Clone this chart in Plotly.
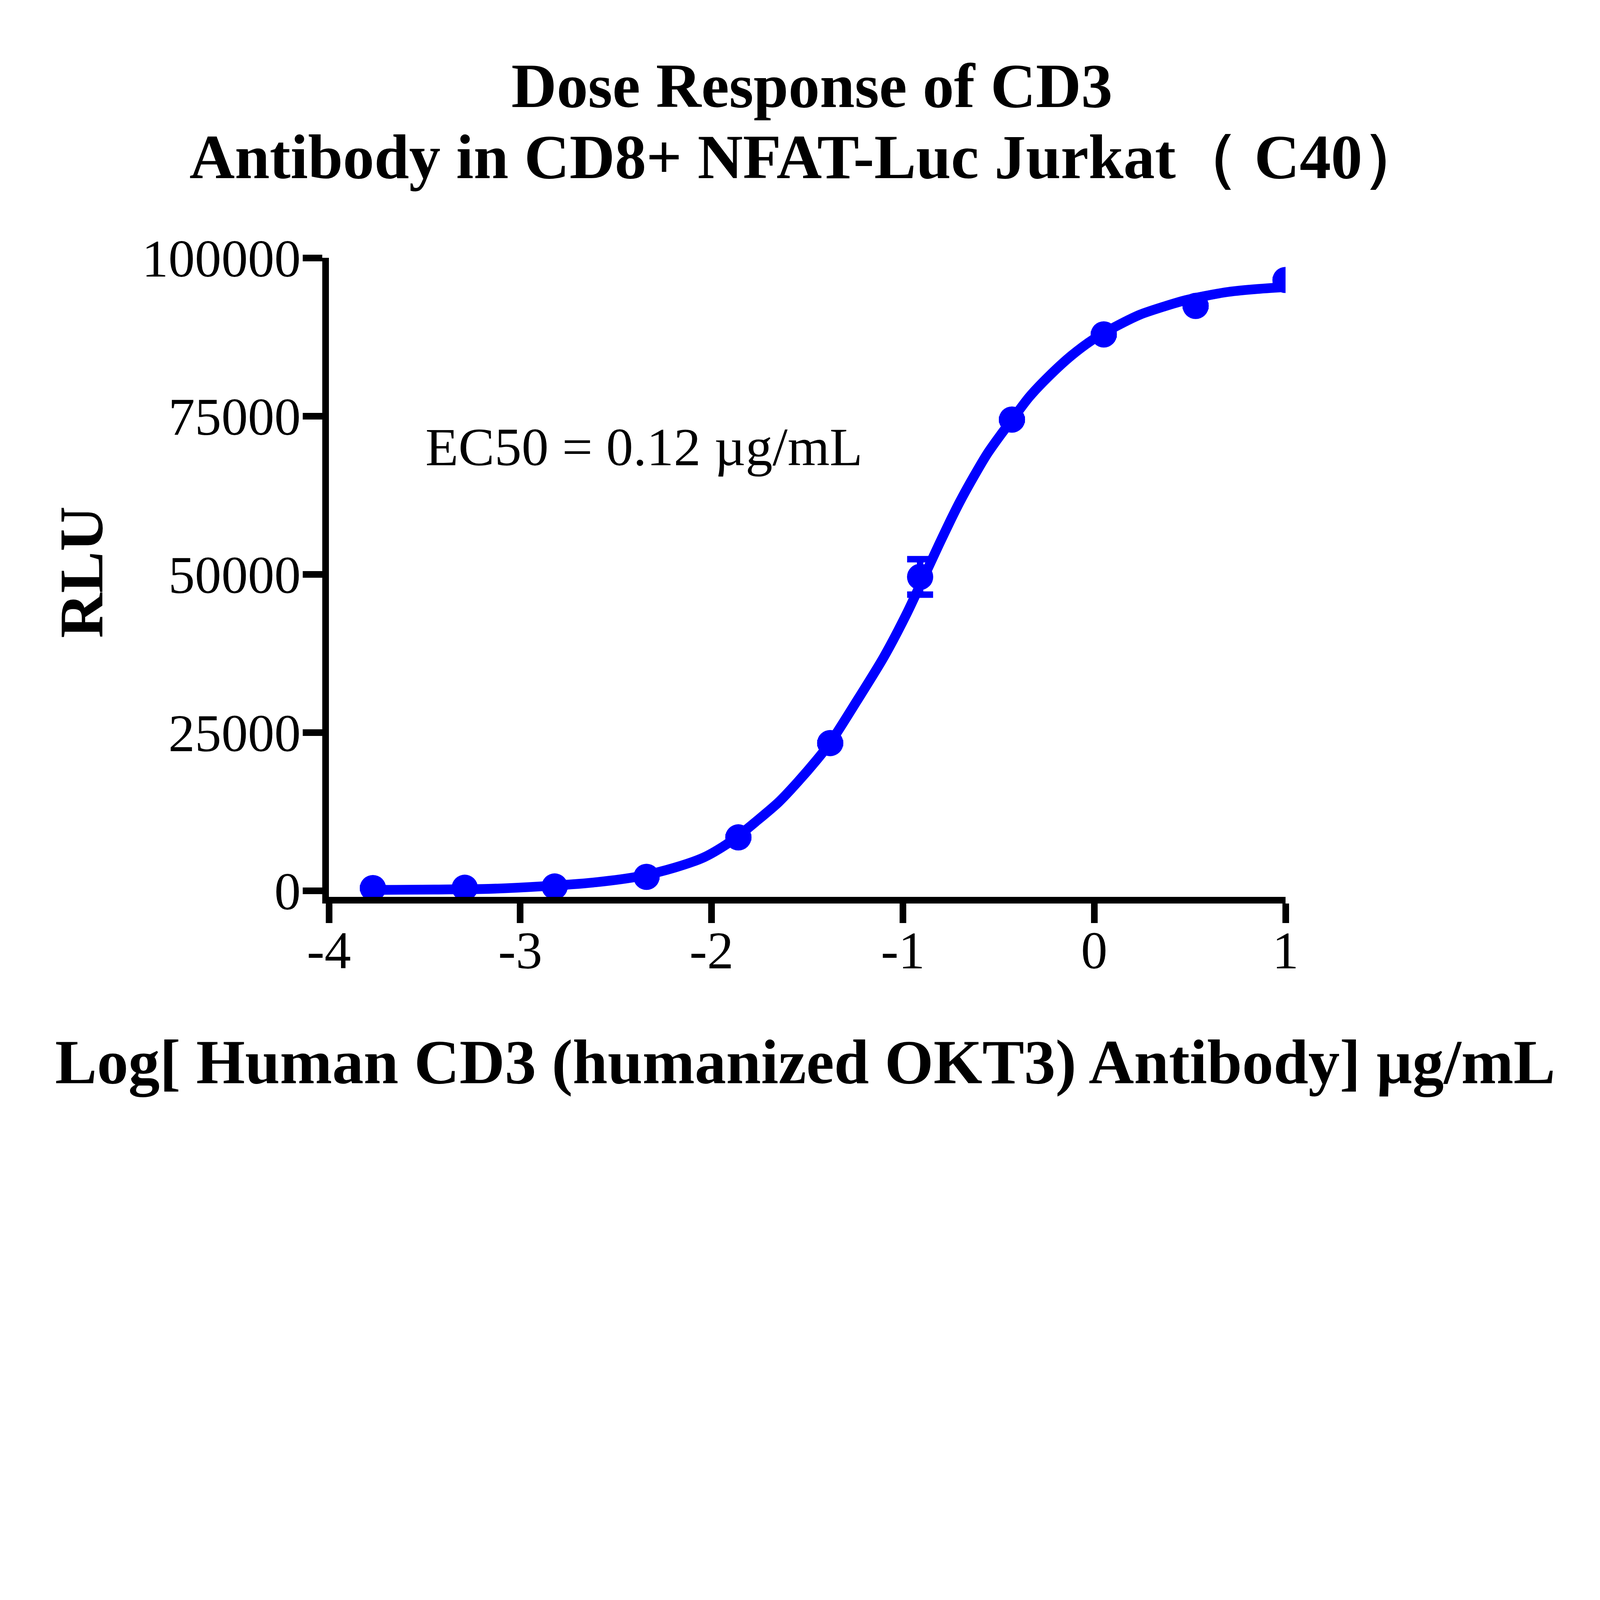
import plotly.graph_objects as go

log_dose = [-3.77, -3.29, -2.82, -2.34, -1.86, -1.38, -0.91, -0.43, 0.05, 0.53, 1.00]
rlu_mean = [450, 500, 700, 2220, 8460, 23350, 49600, 74450, 87900, 92400, 96500]
rlu_sd = [None, None, None, None, None, None, 2800, None, None, None, None]

# fitted curve
fit_x = [-3.77, -3.45, -3.15, -2.90, -2.62, -2.37, -2.19, -2.04, -1.94, -1.86, -1.77,
         -1.65, -1.55, -1.45, -1.38, -1.24, -1.10, -0.98, -0.91, -0.81, -0.75, -0.70,
         -0.63, -0.56, -0.49, -0.43, -0.34, -0.24, -0.12, 0.00, 0.12, 0.24, 0.36,
         0.48, 0.69, 0.84, 1.00]
fit_y = [150, 220, 340, 700, 1320, 2350, 3700, 5300, 7000, 8700, 10900,
         14000, 17200, 20700, 23400, 30040, 36920, 43800, 48300, 54800, 58600, 61600,
         65430, 69000, 72000, 74400, 78000, 81200, 84530, 87220, 89270, 91030, 92260,
         93330, 94570, 95040, 95380]

x_ticks = [-4, -3, -2, -1, 0, 1]
x_ticktext = ["-4", "-3", "-2", "-1", "0", "1"]
y_ticks = [0, 25000, 50000, 75000, 100000]
y_ticktext = ["0", "25000", "50000", "75000", "100000"]

BLUE = "#0000FF"
SERIF = "Liberation Serif, Times New Roman, serif"

# the browser page is only 4096 px wide, so the 5916 x 4204 layout is scaled down to fit
S = 4096 / 5916


def px(v):
    return v * S


fig = go.Figure()
fig.add_trace(go.Scatter(
    x=fit_x, y=fit_y, mode="lines",
    line=dict(color=BLUE, width=px(36), shape="spline", smoothing=0.8),
    showlegend=False, hoverinfo="skip",
))
fig.add_trace(go.Scatter(
    x=log_dose, y=rlu_mean, mode="markers",
    marker=dict(color=BLUE, size=px(97)),
    error_y=dict(type="data", array=rlu_sd, color=BLUE, thickness=px(24), width=px(48)),
    showlegend=False,
))

axis_common = dict(
    showline=True, linecolor="black", linewidth=px(24),
    ticks="outside", ticklen=px(72), tickwidth=px(24), tickcolor="black",
    showgrid=False, zeroline=False,
    tickfont=dict(family=SERIF, size=px(196), color="black"),
)

fig.update_layout(
    width=4096, height=round(4204 * S),
    margin=dict(l=px(1204), r=px(1174), t=px(942), b=px(900)),
    paper_bgcolor="white", plot_bgcolor="white",
    xaxis=dict(range=[-4, 1], tickvals=x_ticks, ticktext=x_ticktext,
               ticklabelstandoff=round(px(-68)), **axis_common),
    yaxis=dict(range=[-940, 100000], tickvals=y_ticks, ticktext=y_ticktext,
               ticklabelstandoff=round(px(-32)), **axis_common),
    annotations=[
        dict(text="<b>Dose Response of CD3</b>", xref="paper", yref="paper",
             x=0.505, y=1.2689, xanchor="center", yanchor="middle", showarrow=False,
             font=dict(family=SERIF, size=px(232), color="black")),
        dict(text="<b>Antibody in CD8+ NFAT-Luc Jurkat（ C40）</b>", xref="paper", yref="paper",
             x=0.5, y=1.1579, xanchor="center", yanchor="middle", showarrow=False,
             font=dict(family=SERIF, size=px(232), color="black")),
        dict(text="EC50 = 0.12 µg/mL", xref="x", yref="y",
             x=-3.50, y=70100, xanchor="left", yanchor="middle", showarrow=False,
             font=dict(family=SERIF, size=px(200), color="black")),
        dict(text="<b>Log[ Human CD3 (humanized OKT3) Antibody] µg/mL</b>", xref="paper", yref="paper",
             x=0.498, y=-0.2587, xanchor="center", yanchor="middle", showarrow=False,
             font=dict(family=SERIF, size=px(232), color="black")),
        dict(text="<b>RLU</b>", xref="paper", yref="paper", textangle=-90,
             x=-0.259, y=0.508, xanchor="center", yanchor="middle", showarrow=False,
             font=dict(family=SERIF, size=px(231), color="black")),
    ],
)

fig.write_html("out.html")
